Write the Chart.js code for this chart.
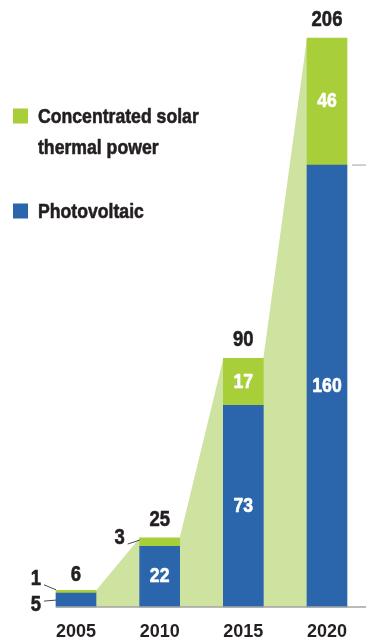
<!DOCTYPE html>
<html>
<head>
<meta charset="utf-8">
<script src="https://cdn.jsdelivr.net/npm/chart.js@4"></script>
<style>
  html, body { margin: 0; padding: 0; background: #fff; overflow: hidden; }
  canvas { display: block; }
</style>
</head>
<body>
<canvas id="c" width="366" height="643"></canvas>
<script>
// Installed solar capacity by technology (GW)
const years = ['2005', '2010', '2015', '2020'];
const photovoltaic = [5, 22, 73, 160];
const solarThermal = [1, 3, 17, 46];
const seriesNames = ['Photovoltaic', 'Concentrated solar thermal power'];

const BLUE = '#2b65ab';
const GREEN = '#a8ce39';
const PALE = '#cfe3a0';
const INK = '#231f20';
const AXIS = '#a3a3a3';
const FACE = '"Liberation Sans", Arial, sans-serif';
const SQUEEZE = 0.84; // horizontal compression for the condensed lettering

const totals = years.map((_, i) => photovoltaic[i] + solarThermal[i]);

// condensed, heavy text: squeeze horizontally and thicken with a hairline stroke
function narrowText(ctx, text, x, y) {
  ctx.save();
  ctx.translate(x, y);
  ctx.scale(SQUEEZE, 1);
  ctx.strokeStyle = ctx.fillStyle;
  ctx.lineWidth = 0.6;
  ctx.lineJoin = 'round';
  ctx.fillText(text, 0, 0);
  ctx.strokeText(text, 0, 0);
  ctx.restore();
}

// Pale growth band running behind the bars, from one stack top to the next
const backdrop = {
  id: 'backdrop',
  beforeDatasetsDraw(chart) {
    const { ctx } = chart;
    const tops = chart.getDatasetMeta(1).data;
    const y0 = chart.scales.y.getPixelForValue(0);
    ctx.save();
    ctx.fillStyle = PALE;
    ctx.beginPath();
    tops.forEach((bar, i) => {
      const half = bar.width / 2;
      if (i === 0) {
        ctx.moveTo(bar.x + half, y0);
        ctx.lineTo(bar.x + half, bar.y);
      } else if (i === tops.length - 1) {
        ctx.lineTo(bar.x - half, bar.y);
        ctx.lineTo(bar.x - half, y0);
      } else {
        ctx.lineTo(bar.x - half, bar.y);
        ctx.lineTo(bar.x + half, bar.y);
      }
    });
    ctx.closePath();
    ctx.fill();
    ctx.restore();
  }
};

// Baseline, value labels and leader lines
const annotate = {
  id: 'annotate',
  afterDatasetsDraw(chart) {
    const { ctx } = chart;
    const y = chart.scales.y;
    const y0 = y.getPixelForValue(0);
    const lower = chart.getDatasetMeta(0).data;
    const upper = chart.getDatasetMeta(1).data;
    const first = lower[0];
    const last = lower[lower.length - 1];

    ctx.save();
    // baseline
    ctx.strokeStyle = AXIS;
    ctx.lineWidth = 1.5;
    ctx.beginPath();
    ctx.moveTo(first.x - first.width / 2, y0);
    ctx.lineTo(chart.width, y0);
    ctx.stroke();

    // short rule marking the split of the last stack
    ctx.lineWidth = 1;
    ctx.beginPath();
    ctx.moveTo(last.x + last.width / 2 + 5, last.y);
    ctx.lineTo(chart.width, last.y);
    ctx.stroke();

    ctx.textAlign = 'center';
    ctx.textBaseline = 'middle';

    years.forEach((_, i) => {
      const lo = lower[i];
      const hi = upper[i];
      const left = lo.x - lo.width / 2;

      // stack total
      ctx.fillStyle = INK;
      ctx.font = 'bold 22px ' + FACE;
      narrowText(ctx, String(totals[i]), hi.x, hi.y - (i === 0 ? 15 : 18));

      const segs = [
        { v: photovoltaic[i], top: lo.y, bottom: y0 },
        { v: solarThermal[i], top: hi.y, bottom: lo.y }
      ];
      const smallCount = segs.filter(s => s.bottom - s.top < 20).length;

      segs.forEach((s, k) => {
        const h = s.bottom - s.top;
        const mid = (s.top + s.bottom) / 2;
        if (h >= 20) {
          ctx.fillStyle = '#ffffff';
          ctx.font = 'bold 21px ' + FACE;
          narrowText(ctx, String(s.v), lo.x, mid);
        } else {
          let dy = -4;
          if (smallCount > 1) dy = k === 0 ? 5 : -13;
          const lx = left - 20;
          const ly = mid + dy;
          ctx.fillStyle = INK;
          ctx.font = 'bold 22px ' + FACE;
          narrowText(ctx, String(s.v), lx, ly);
          ctx.strokeStyle = '#4a4a4a';
          ctx.lineWidth = 1;
          ctx.beginPath();
          ctx.moveTo(lx + 8, ly + (k === 0 && smallCount > 1 ? -4 : 6));
          ctx.lineTo(left, mid + (k === 0 && smallCount > 1 ? 0 : -2));
          ctx.stroke();
        }
      });
    });
    ctx.restore();
  }
};

// Stacked key in the upper left
const keyBox = {
  id: 'keyBox',
  afterDraw(chart) {
    const { ctx } = chart;
    const entries = [
      { name: seriesNames[1], color: GREEN, y: 116 },
      { name: seriesNames[0], color: BLUE, y: 211 }
    ];
    ctx.save();
    ctx.font = 'bold 21px ' + FACE;
    ctx.textAlign = 'left';
    ctx.textBaseline = 'middle';
    entries.forEach(e => {
      ctx.fillStyle = e.color;
      ctx.fillRect(13, e.y - 7.5, 15, 15);
      ctx.fillStyle = INK;
      const words = e.name.split(' ');
      const lines = [];
      let line = '';
      words.forEach(w => {
        const test = line ? line + ' ' + w : w;
        if (ctx.measureText(test).width * SQUEEZE > 175 && line) {
          lines.push(line);
          line = w;
        } else {
          line = test;
        }
      });
      lines.push(line);
      lines.forEach((t, j) => narrowText(ctx, t, 38, e.y + 1 + j * 31));
    });
    ctx.restore();
  }
};

new Chart(document.getElementById('c'), {
  type: 'bar',
  data: {
    labels: years,
    datasets: [
      { label: seriesNames[0], data: photovoltaic, backgroundColor: BLUE, borderWidth: 0, barThickness: 40, clip: false },
      { label: seriesNames[1], data: solarThermal, backgroundColor: GREEN, borderWidth: 0, barThickness: 40, clip: false }
    ]
  },
  options: {
    responsive: false,
    animation: false,
    layout: { padding: { top: 38, left: 76, right: 39, bottom: 0 } },
    plugins: {
      legend: { display: false },
      tooltip: { enabled: false }
    },
    scales: {
      x: {
        stacked: true,
        offset: false,
        grid: { display: false, drawTicks: false },
        border: { display: false },
        ticks: {
          color: INK,
          font: { family: FACE, weight: 'bold', size: 18 },
          padding: 14,
          maxRotation: 0,
          autoSkip: false
        },
        afterFit(scale) { scale.height = 36; }
      },
      y: {
        stacked: true,
        display: false,
        min: 0,
        max: Math.max(...totals)
      }
    }
  },
  plugins: [backdrop, annotate, keyBox]
});
</script>
</body>
</html>
